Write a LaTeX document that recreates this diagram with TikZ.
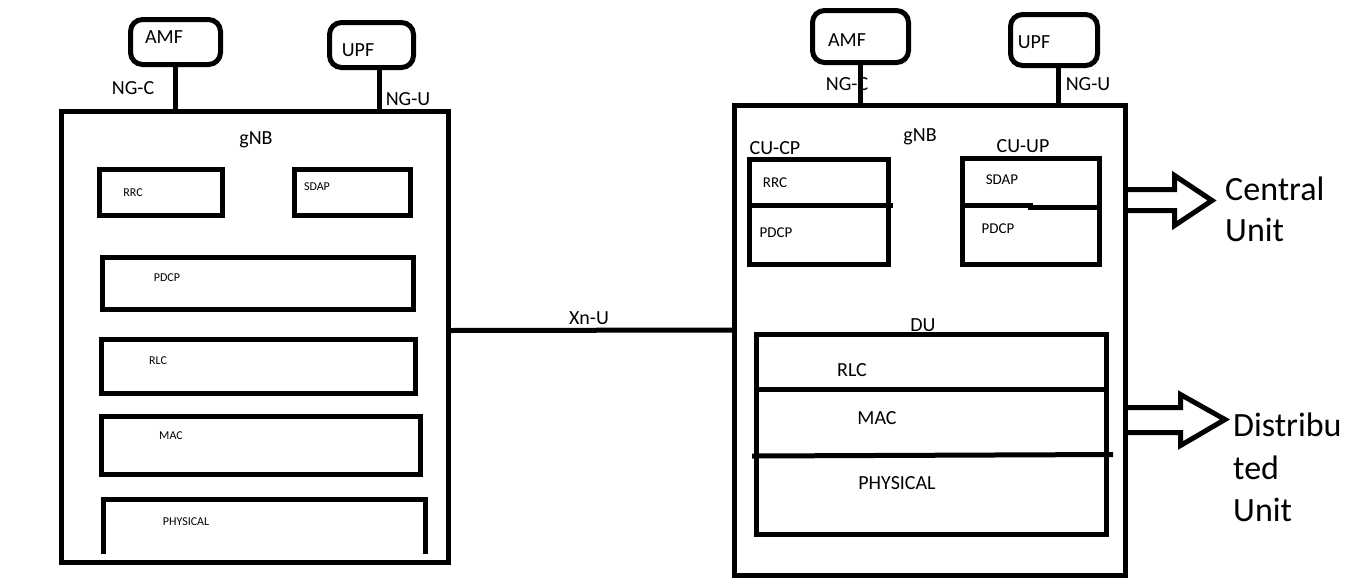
\documentclass[tikz,border=0pt]{standalone}
\usepackage{fontspec}
\setmainfont{Carlito}
\begin{document}
\begin{tikzpicture}[x=1pt,y=-1pt,
  box/.style={draw, line width=5pt, inner sep=0pt, outer sep=0pt},
  rbox/.style={box, rounded corners=12pt},
  ln/.style={line width=5pt},
  lbl/.style={inner sep=0pt, font=\fontsize{20}{24}\selectfont},
  slbl/.style={inner sep=0pt, font=\fontsize{12}{14}\selectfont},
  mlbl/.style={inner sep=0pt, font=\fontsize{15}{18}\selectfont},
  big/.style={inner sep=0pt, align=left, anchor=north west}
]
\useasboundingbox (0,0) rectangle (1346,582);
\fill[white] (0,0) rectangle (1346,582);

% ---------- left gNB ----------
\node[rbox, minimum width=90pt, minimum height=45pt] (amfL) at (175.5,42) {};
\node[rbox, minimum width=84pt, minimum height=45pt] (upfL) at (371.5,45) {};
\node[box, minimum width=387pt, minimum height=451pt] (gnbL) at (255,337) {};
\node[box, minimum width=123pt, minimum height=46pt] (rrcL) at (161,192.5) {};
\node[box, minimum width=116pt, minimum height=46pt] (sdapL) at (352.5,192.5) {};
\node[box, minimum width=311pt, minimum height=52pt] (pdcpL) at (258,283.5) {};
\node[box, minimum width=314pt, minimum height=54pt] (rlcL) at (258.5,366.5) {};
\node[box, minimum width=319pt, minimum height=58pt] (macL) at (261,445.5) {};
\draw[ln] (103.5,554) -- (103.5,499.5) -- (425.5,499.5) -- (425.5,554);

\draw[ln] (amfL.south) -- (amfL.south |- gnbL.north);
\draw[ln] ([xshift=7.5pt]upfL.south) -- ([xshift=7.5pt]upfL.south |- gnbL.north);

\node[lbl] (tamfL) at (164,37) {AMF};
\node[lbl] (tupfL) at (358,50) {UPF};
\node[lbl] (ngcL) at (133,88) {NG-C};
\node[lbl] (nguL) at (408,99) {NG-U};
\node[lbl] (tgnbL) at (256,140) {gNB};
\node[slbl] (trrcL) at (133,193) {RRC};
\node[slbl] (tsdapL) at (317,187) {SDAP};
\node[slbl] (tpdcpL) at (167,278) {PDCP};
\node[slbl] (trlcL) at (158,361) {RLC};
\node[slbl] (tmacL) at (171,436) {MAC};
\node[slbl] (tphysL) at (186,522) {PHYSICAL};

% ---------- right gNB ----------
\node[rbox, minimum width=96pt, minimum height=52pt] (amfR) at (860.5,36.5) {};
\node[rbox, minimum width=87pt, minimum height=51pt] (upfR) at (1054,40) {};
\node[box, minimum width=391pt, minimum height=470pt] (gnbR) at (930,340.5) {};
\node[box, minimum width=139pt, minimum height=105pt] (cucp) at (819,212) {};
\node[box, minimum width=137pt, minimum height=106pt] (cuup) at (1031,211.5) {};
\node[box, minimum width=350pt, minimum height=200pt] (du) at (931.5,434.5) {};
\draw[ln] (749.5,205) -- (893,205);
\draw[ln] (962.5,205.5) -- (1030,205.5) -- (1030,207) -- (1099.5,207);
\draw[ln] (756.5,389) -- (1106.5,389);
\draw[ln] (752,456) -- (1113,454.5);

\draw[ln] (amfR.south) -- (amfR.south |- gnbR.north);
\draw[ln] ([xshift=4pt]upfR.south) -- ([xshift=4pt]upfR.south |- gnbR.north);

\node[lbl] (tamfR) at (847,40) {AMF};
\node[lbl] (tupfR) at (1034,42) {UPF};
\node[lbl] (ngcR) at (847,84) {NG-C};
\node[lbl] (nguR) at (1088,84) {NG-U};
\node[lbl] (tgnbR) at (920,137) {gNB};
\node[lbl] (tcucp) at (775,148) {CU-CP};
\node[lbl] (tcuup) at (1023,146) {CU-UP};
\node[mlbl] (trrcR) at (775,183) {RRC};
\node[mlbl] (tpdcpR1) at (776,233) {PDCP};
\node[mlbl] (tsdapR) at (1002,180) {SDAP};
\node[mlbl] (tpdcpR2) at (998,229) {PDCP};
\node[lbl] (tdu) at (923,325) {DU};
\node[lbl] (trlcR) at (852,370) {RLC};
\node[lbl] (tmacR) at (877,418) {MAC};
\node[lbl] (tphysR) at (897,483) {PHYSICAL};

% ---------- Xn-U ----------
\draw[ln] ([yshift=6.5pt]gnbL.east) -- ([yshift=10.5pt]gnbR.west);
\node[lbl] (xnu) at (589,318) {Xn-U};

% ---------- block arrows ----------
\draw[ln, line join=miter] (1128,189.5) -- (1174.5,189.5) -- (1174.5,175.5) -- (1212,200.5)
  -- (1174.5,225.5) -- (1174.5,210.5) -- (1128,210.5);
\draw[ln, line join=miter] (1128,407.5) -- (1180.5,407.5) -- (1180.5,394.5) -- (1225,419.5)
  -- (1180.5,445.5) -- (1180.5,432.5) -- (1128,432.5);

\node[big, font=\fontsize{34}{41}\selectfont] (central) at (1225,177) {Central\\Unit};
\node[big, font=\fontsize{34}{42.5}\selectfont] (distributed) at (1233,413) {Distribu\\ted\\Unit};
\end{tikzpicture}
\end{document}
